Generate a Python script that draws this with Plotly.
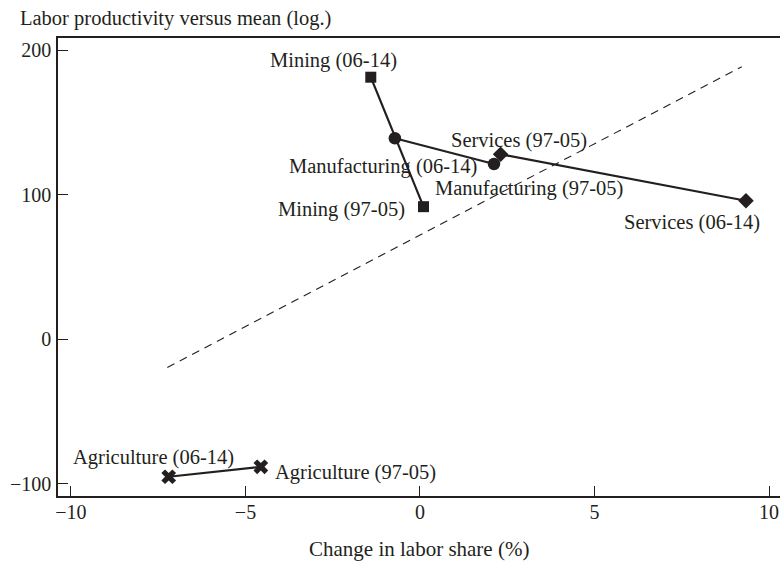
import plotly.graph_objects as go

# ---- data ----
sectors = ["Mining", "Manufacturing", "Services", "Agriculture"]
periods = ["06-14", "97-05"]
mining_x = [-1.41, 0.10]
mining_y = [181.2, 91.7]
manufacturing_x = [-0.72, 2.12]
manufacturing_y = [139.0, 121.2]
services_x = [9.34, 2.31]
services_y = [95.8, 127.9]
agriculture_x = [-7.20, -4.56]
agriculture_y = [-95.0, -88.1]
ref_line_x = [-7.24, 9.22]
ref_line_y = [-19.4, 188.5]
x_ticks = [-10, -5, 0, 5, 10]
y_ticks = [-100, 0, 100, 200]

series = {
    "Mining": (mining_x, mining_y, "square", 11),
    "Manufacturing": (manufacturing_x, manufacturing_y, "circle", 12.5),
    "Services": (services_x, services_y, "diamond", 12),
    "Agriculture": (agriculture_x, agriculture_y, "x", 13),
}

# label placement (anchor, xshift px, yshift px) per (sector, period index)
label_style = {
    ("Mining", 0): ("right", 28, 17),
    ("Mining", 1): ("right", -16, -3),
    ("Manufacturing", 0): ("center", -12, -28),
    ("Manufacturing", 1): ("left", -61, -24),
    ("Services", 0): ("right", 16, -22),
    ("Services", 1): ("center", 18, 14),
    ("Agriculture", 0): ("center", -15, 19),
    ("Agriculture", 1): ("left", 12, -6),
}

INK = "#231f20"
FONT = "Liberation Serif"

fig = go.Figure()

fig.add_trace(go.Scatter(
    x=ref_line_x, y=ref_line_y, mode="lines",
    line=dict(color=INK, width=1.1, dash="8px,6px"),
    hoverinfo="skip", showlegend=False,
))

annotations = []
for name, (xs, ys, sym, size) in series.items():
    fig.add_trace(go.Scatter(
        x=xs, y=ys, mode="lines+markers", name=name,
        line=dict(color=INK, width=2.2),
        marker=dict(symbol=sym, size=size, color=INK, line=dict(width=0)),
        showlegend=False,
    ))
    for i, (xv, yv) in enumerate(zip(xs, ys)):
        anchor, dx, dy = label_style[(name, i)]
        annotations.append(dict(
            x=xv, y=yv, xref="x", yref="y",
            text=f"{name} ({periods[i]})", showarrow=False,
            xanchor=anchor, yanchor="middle", xshift=dx, yshift=dy,
            font=dict(family=FONT, size=20.5, color=INK),
        ))

annotations.append(dict(
    text="Change in labor share (%)", xref="paper", yref="paper",
    x=0.5, y=0, xanchor="center", yanchor="middle", yshift=-53,
    showarrow=False, font=dict(family=FONT, size=21, color=INK),
))

fig.update_layout(
    width=780, height=562,
    margin=dict(l=58, r=0, t=38, b=66, autoexpand=False),
    paper_bgcolor="white", plot_bgcolor="white",
    font=dict(family=FONT, size=20, color=INK),
    title=dict(
        text="Labor productivity versus mean (log.)",
        x=20 / 780, xanchor="left", xref="container",
        y=1 - 18 / 562, yanchor="middle", yref="container",
        font=dict(family=FONT, size=20.5, color=INK),
    ),
    annotations=annotations,
)

fig.update_xaxes(
    range=[-10.372, 10.315], tickvals=x_ticks, automargin=False,
    showgrid=False, zeroline=False,
    showline=True, linecolor=INK, linewidth=1.5, mirror=True,
    ticks="inside", ticklen=10, tickwidth=1.3, tickcolor=INK,
    ticklabelstandoff=-3,
    tickfont=dict(family=FONT, size=20, color=INK),
)
fig.update_yaxes(
    range=[-108.3, 208.3], tickvals=y_ticks, automargin=False,
    showgrid=False, zeroline=False,
    showline=True, linecolor=INK, linewidth=1.5, mirror=False,
    ticks="inside", ticklen=10, tickwidth=1.3, tickcolor=INK,
    ticklabelstandoff=1,
    tickfont=dict(family=FONT, size=20, color=INK),
)

fig.write_html(
    "out.html",
    config={"displayModeBar": False},
    post_script="document.body.style.margin='0';document.body.style.overflow='hidden';",
)
